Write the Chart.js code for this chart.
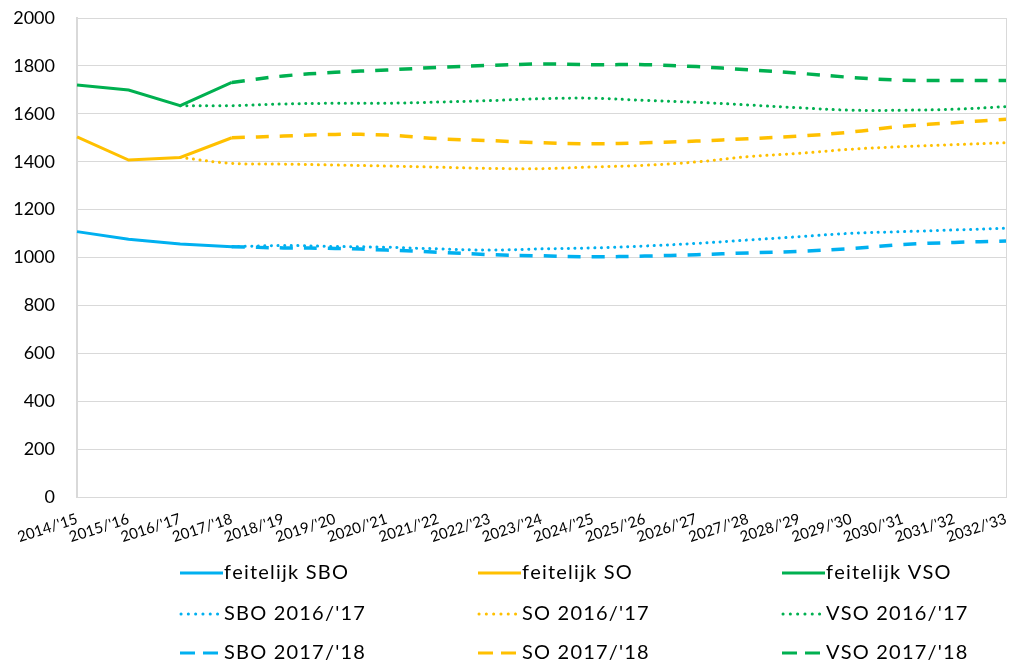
<!DOCTYPE html>
<html>
<head>
<meta charset="utf-8">
<script src="https://cdn.jsdelivr.net/npm/chart.js@4/dist/chart.umd.min.js"></script>
<style>
html,body{margin:0;padding:0;background:#fff;}
#wrap{width:1012px;height:665px;position:relative;}
</style>
</head>
<body>
<div id="wrap"><canvas id="c" width="1012" height="665"></canvas></div>
<script>
const categories = ["2014/'15","2015/'16","2016/'17","2017/'18","2018/'19","2019/'20","2020/'21","2021/'22","2022/'23","2023/'24","2024/'25","2025/'26","2026/'27","2027/'28","2028/'29","2029/'30","2030/'31","2031/'32","2032/'33"];
const yTicks = [0,200,400,600,800,1000,1200,1400,1600,1800,2000];

const feitelijkSBO = [1108,1076,1056,1045,null,null,null,null,null,null,null,null,null,null,null,null,null,null,null];
const feitelijkSO  = [1504,1407,1418,1500,null,null,null,null,null,null,null,null,null,null,null,null,null,null,null];
const feitelijkVSO = [1720,1699,1634,1731,null,null,null,null,null,null,null,null,null,null,null,null,null,null,null];

const sbo1617 = [null,null,null,1045,1050,1046,1043,1036,1031,1036,1040,1048,1059,1073,1087,1101,1108,1115,1122];
const so1617  = [null,null,1418,1393,1390,1386,1382,1377,1372,1371,1378,1385,1399,1421,1435,1452,1463,1471,1479];
const vso1617 = [null,null,1634,1634,1641,1644,1644,1649,1655,1663,1665,1656,1648,1637,1625,1615,1615,1619,1630];

const sbo1718 = [null,null,null,1045,1040,1038,1031,1022,1012,1007,1003,1006,1012,1019,1026,1037,1054,1063,1069];
const so1718  = [null,null,null,1500,1507,1514,1511,1496,1488,1479,1475,1479,1486,1496,1507,1524,1548,1563,1577];
const vso1718 = [null,null,null,1731,1758,1773,1783,1794,1802,1808,1805,1805,1797,1784,1769,1752,1740,1739,1739];

const BLUE = '#00b0f0', ORANGE = '#ffc000', GREEN = '#00b050';
const FONT = 'Lato, "Open Sans", sans-serif';

function solid(label, data, color){
  return {label, data, borderColor: color, backgroundColor: color, borderWidth: 3, pointRadius: 0, tension: 0, spanGaps: false, _kind: 'solid'};
}
function dotted(label, data, color){
  return {label, data, borderColor: color, backgroundColor: color, borderWidth: 3, borderDash: [0.1, 6.5], borderCapStyle: 'round', pointRadius: 0, tension: 0.4, _kind: 'dot'};
}
function dashed(label, data, color){
  return {label, data, borderColor: color, backgroundColor: color, borderWidth: 3.5, borderDash: [13, 11], borderCapStyle: 'butt', pointRadius: 0, tension: 0.4, _kind: 'dash'};
}

const datasets = [
  dashed("SBO 2017/'18", sbo1718, BLUE),
  dashed("SO 2017/'18", so1718, ORANGE),
  dashed("VSO 2017/'18", vso1718, GREEN),
  dotted("SBO 2016/'17", sbo1617, BLUE),
  dotted("SO 2016/'17", so1617, ORANGE),
  dotted("VSO 2016/'17", vso1617, GREEN),
  solid("feitelijk SBO", feitelijkSBO, BLUE),
  solid("feitelijk SO", feitelijkSO, ORANGE),
  solid("feitelijk VSO", feitelijkVSO, GREEN)
];

const legendOrder = [
  ["feitelijk SBO","feitelijk SO","feitelijk VSO"],
  ["SBO 2016/'17","SO 2016/'17","VSO 2016/'17"],
  ["SBO 2017/'18","SO 2017/'18","VSO 2017/'18"]
];
const legendCols = [180, 478, 782];
const legendRows = [573, 614, 653];

function spacedText(ctx, text, x, y, spacing){
  let cx = x;
  for (const ch of text) {
    ctx.fillText(ch, cx, y);
    cx += ctx.measureText(ch).width + spacing;
  }
}

const legendPlugin = {
  id: 'customLegend',
  afterDraw(chart){
    const ctx = chart.ctx;
    ctx.save();
    legendOrder.forEach((row, r) => {
      row.forEach((label, c) => {
        const ds = chart.data.datasets.find(d => d.label === label);
        const x = legendCols[c], y = legendRows[r];
        ctx.strokeStyle = ds.borderColor;
        ctx.lineWidth = 3;
        ctx.beginPath();
        if (ds._kind === 'solid') {
          ctx.setLineDash([]); ctx.lineCap = 'butt';
          ctx.moveTo(x, y); ctx.lineTo(x + 43, y);
        } else if (ds._kind === 'dot') {
          ctx.setLineDash([0.1, 7.2]); ctx.lineCap = 'round';
          ctx.moveTo(x + 1, y); ctx.lineTo(x + 38, y);
        } else {
          ctx.setLineDash([15, 8]); ctx.lineCap = 'butt';
          ctx.moveTo(x, y); ctx.lineTo(x + 38, y);
        }
        ctx.stroke();
        ctx.setLineDash([]);
        ctx.fillStyle = '#000';
        ctx.font = '20px ' + FONT;
        ctx.textBaseline = 'middle';
        ctx.textAlign = 'left';
        spacedText(ctx, label, x + 44, y, 1.2);
      });
    });
    ctx.restore();
  }
};

const rightBorder = {
  id: 'rightBorder',
  afterDatasetsDraw(chart){
    const a = chart.chartArea, ctx = chart.ctx;
    ctx.save();
    ctx.strokeStyle = '#d9d9d9';
    ctx.lineWidth = 1;
    ctx.beginPath();
    ctx.moveTo(a.right + 0.5, a.top);
    ctx.lineTo(a.right + 0.5, a.bottom);
    ctx.stroke();
    ctx.restore();
  }
};

new Chart(document.getElementById('c'), {
  type: 'line',
  data: { labels: categories, datasets },
  options: {
    responsive: false,
    animation: false,
    layout: { padding: { top: 18, right: 6, left: 0, bottom: 108 } },
    plugins: { legend: { display: false }, tooltip: { enabled: false } },
    scales: {
      x: {
        offset: false,
        grid: { display: false, drawTicks: false },
        border: { display: true, color: '#d9d9d9', width: 1 },
        ticks: { color: '#000', font: { family: FONT, size: 15 }, minRotation: 18, maxRotation: 18, autoSkip: false, padding: 13 },
        afterFit(s){ s.height = 60; s.paddingRight = 0; s.paddingLeft = 0; s.paddingTop = 0; s.paddingBottom = 0; }
      },
      y: {
        min: 0, max: 2000,
        afterBuildTicks(s){ s.ticks = yTicks.map(v => ({value: v})); },
        grid: { color: '#d9d9d9', lineWidth: 1, drawTicks: false },
        border: { display: true, color: '#d9d9d9', width: 2 },
        ticks: { color: '#000', font: { family: FONT, size: 18 }, padding: 22, callback: v => String(v) },
        afterFit(s){ s.width = 77; s.paddingTop = 0; s.paddingBottom = 0; s.paddingLeft = 0; s.paddingRight = 0; }
      }
    }
  },
  plugins: [legendPlugin, rightBorder]
});
</script>
</body>
</html>
